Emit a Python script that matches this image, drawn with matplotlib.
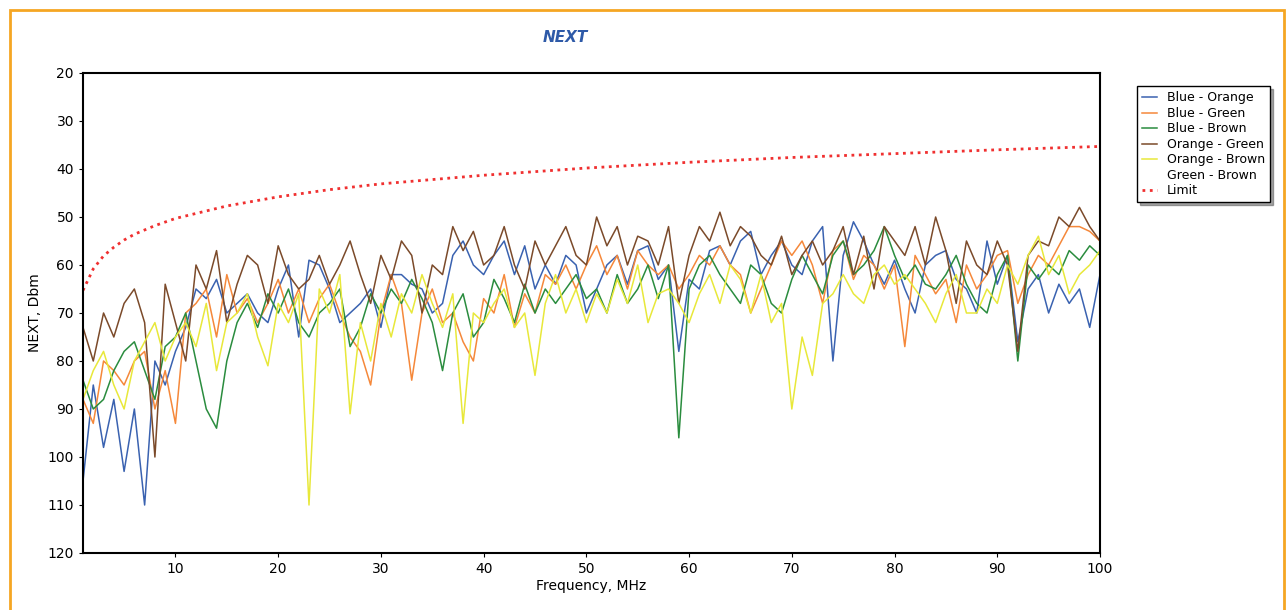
import numpy as np
import matplotlib
matplotlib.use('Agg')
import matplotlib.pyplot as plt
from matplotlib.patches import Rectangle

freq = np.arange(1, 101)

blue_orange = [105, 85, 98, 88, 103, 90, 110, 80, 85, 78, 73, 65, 67, 63, 70, 68, 66, 70, 72, 65,
               60, 75, 59, 60, 65, 72, 70, 68, 65, 73, 62, 62, 64, 65, 70, 68, 58, 55, 60, 62,
               58, 55, 62, 56, 65, 60, 64, 58, 60, 70, 65, 60, 58, 64, 57, 56, 63, 60, 78, 63,
               65, 57, 56, 60, 55, 53, 62, 58, 55, 60, 62, 55, 52, 80, 58, 51, 55, 60, 64, 59,
               65, 70, 60, 58, 57, 63, 65, 70, 55, 64, 58, 76, 65, 62, 70, 64, 68, 65, 73, 62]
blue_green = [88, 93, 80, 82, 85, 80, 78, 90, 82, 93, 70, 68, 65, 75, 62, 70, 67, 72, 68, 63,
              70, 65, 72, 67, 64, 70, 75, 78, 85, 70, 62, 68, 84, 70, 65, 72, 70, 76, 80, 67,
              70, 62, 73, 66, 70, 62, 64, 60, 65, 60, 56, 62, 58, 65, 57, 60, 62, 60, 65, 62,
              58, 60, 56, 60, 62, 70, 65, 60, 55, 58, 55, 60, 68, 57, 55, 63, 58, 60, 65, 60,
              77, 58, 62, 66, 63, 72, 60, 65, 62, 58, 57, 68, 62, 58, 60, 56, 52, 52, 53, 55]
blue_brown = [84, 90, 88, 82, 78, 76, 82, 88, 77, 75, 70, 80, 90, 94, 80, 72, 68, 73, 66, 70,
              65, 72, 75, 70, 68, 65, 77, 73, 66, 70, 65, 68, 63, 67, 72, 82, 70, 66, 75, 72,
              63, 67, 72, 64, 70, 65, 68, 65, 62, 67, 65, 70, 62, 68, 65, 60, 67, 60, 96, 65,
              60, 58, 62, 65, 68, 60, 62, 68, 70, 63, 58, 62, 66, 58, 55, 62, 60, 57, 52, 58,
              63, 60, 64, 65, 62, 58, 64, 68, 70, 62, 58, 80, 60, 63, 60, 62, 57, 59, 56, 58]
orange_green = [73, 80, 70, 75, 68, 65, 72, 100, 64, 72, 80, 60, 65, 57, 72, 64, 58, 60, 68, 56,
                62, 65, 63, 58, 64, 60, 55, 62, 68, 58, 63, 55, 58, 70, 60, 62, 52, 57, 53, 60,
                58, 52, 60, 65, 55, 60, 56, 52, 58, 60, 50, 56, 52, 60, 54, 55, 60, 52, 68, 58,
                52, 55, 49, 56, 52, 54, 58, 60, 54, 62, 58, 55, 60, 57, 52, 62, 54, 65, 52, 55,
                58, 52, 60, 50, 57, 68, 55, 60, 62, 55, 60, 78, 58, 55, 56, 50, 52, 48, 52, 55]
orange_brown = [88, 82, 78, 85, 90, 80, 76, 72, 80, 75, 72, 77, 68, 82, 72, 70, 66, 75, 81, 68,
                72, 66, 110, 65, 70, 62, 91, 72, 80, 68, 75, 66, 70, 62, 68, 73, 66, 93, 70, 72,
                68, 65, 73, 70, 83, 68, 62, 70, 65, 72, 66, 70, 63, 68, 60, 72, 66, 65, 68, 72,
                66, 62, 68, 60, 63, 70, 62, 72, 68, 90, 75, 83, 68, 66, 62, 66, 68, 62, 60, 64,
                62, 65, 68, 72, 66, 62, 70, 70, 65, 68, 60, 64, 58, 54, 62, 58, 66, 62, 60, 57]

limit_freq = [1, 2, 3, 4, 5, 6, 8, 10, 15, 20, 25, 30, 40, 50, 60, 70, 80, 90, 100]
limit_val = [65.3, 60.8, 58.1, 56.3, 54.8, 53.6, 51.8, 50.3, 47.7, 45.8, 44.3, 43.1, 41.3,
             39.8, 38.6, 37.6, 36.8, 36.0, 35.3]

fig = plt.figure(figsize=(12.87, 6.10), dpi=100)
fig.patches.append(Rectangle((10/1287, -0.1), 1274/1287, 1.0 - 10/610 + 0.1,
                             transform=fig.transFigure, fill=False,
                             edgecolor='#F5A623', linewidth=2))
ax = fig.add_axes([83/1287, 57/610, 1017/1287, 480/610])

ax.plot(freq, blue_orange, color='#3A62B0', lw=1.1, label='Blue - Orange')
ax.plot(freq, blue_green, color='#F5883A', lw=1.1, label='Blue - Green')
ax.plot(freq, blue_brown, color='#2A8C3E', lw=1.1, label='Blue - Brown')
ax.plot(freq, orange_green, color='#7B4A2A', lw=1.1, label='Orange - Green')
ax.plot(freq, orange_brown, color='#E8E83A', lw=1.1, label='Orange - Brown')
ax.plot([], [], color='white', lw=1.1, label='Green - Brown')
ax.plot(limit_freq, limit_val, color='#F03030', lw=2, ls=':', label='Limit')

ax.set_xlim(1, 100)
ax.set_ylim(120, 20)
ax.set_xticks(range(10, 101, 10))
ax.set_yticks(range(20, 121, 10))
ax.tick_params(labelsize=10, length=3)
for s in ax.spines.values():
    s.set_linewidth(1.5)
ax.set_xlabel('Frequency, MHz', fontsize=10, labelpad=2)
ax.set_ylabel('NEXT, Dbm', fontsize=10)
fig.text(565/1287, 1 - 37/610, 'NEXT', color='#2E5AA8', fontsize=11,
         fontweight='bold', style='italic', ha='center', va='center')

leg = ax.legend(loc='upper left', bbox_to_anchor=(1054/1017, 0.972), fontsize=9,
                frameon=True, fancybox=False, shadow=True, edgecolor='black',
                handlelength=1.2, labelspacing=0.2, borderaxespad=0)
leg.get_frame().set_linewidth(1)

fig.savefig('out.png', dpi=100)
